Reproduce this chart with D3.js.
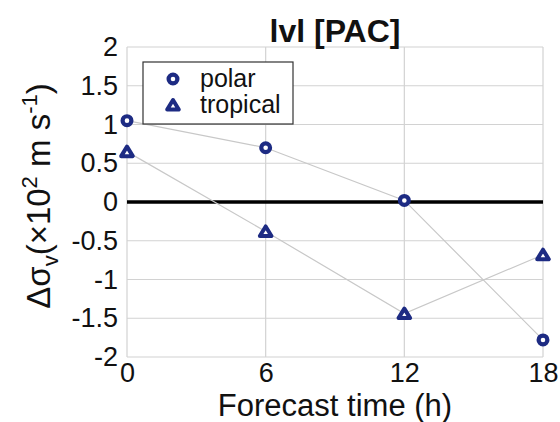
<!DOCTYPE html>
<html>
<head>
<meta charset="utf-8">
<script src="https://cdn.jsdelivr.net/npm/d3@7"></script>
<style>
  body { margin: 0; background: #fff; }
  text { font-family: "Liberation Sans", Arial, Helvetica, sans-serif; fill: #111; }
</style>
</head>
<body>
<div id="chart"></div>
<script>
const hours = [0, 6, 12, 18]
const polar = [1.05, 0.7, 0.02, -1.78]
const tropical = [0.65, -0.38, -1.44, -0.68]
const yTicks = [-2, -1.5, -1, -0.5, 0, 0.5, 1, 1.5, 2]
const seriesNames = ["polar", "tropical"]

const canvas = { width: 560, height: 422, margin: { top: 47, right: 17, bottom: 65, left: 127 } }
const navy = "#1d2b83"

const svg = d3.select("#chart").append("svg")
  .attr("width", canvas.width).attr("height", canvas.height)

const x = d3.scaleLinear().domain([0, 18])
  .range([canvas.margin.left, canvas.width - canvas.margin.right])
const y = d3.scaleLinear().domain([-2, 2])
  .range([canvas.height - canvas.margin.bottom, canvas.margin.top])

// grid
svg.append("g").selectAll("line").data(yTicks).enter().append("line")
  .attr("x1", x(0)).attr("x2", x(18))
  .attr("y1", d => y(d)).attr("y2", d => y(d))
  .attr("stroke", "#d2d2d2").attr("stroke-width", 1.2)
svg.append("g").selectAll("line").data(hours).enter().append("line")
  .attr("x1", d => x(d)).attr("x2", d => x(d))
  .attr("y1", y(-2)).attr("y2", y(2))
  .attr("stroke", "#d2d2d2").attr("stroke-width", 1.2)

// axes (labels only)
const yAxis = svg.append("g").attr("transform", `translate(${x(0) - 9},0)`)
  .call(d3.axisLeft(y).tickValues(yTicks).tickSize(0).tickPadding(0).tickFormat(d => String(d)))
yAxis.select(".domain").remove()
yAxis.selectAll("text").attr("font-size", "27px").attr("fill", "#111")
  .attr("font-family", "Liberation Sans, Arial, sans-serif")

const xAxis = svg.append("g").attr("transform", `translate(0,${y(-2)})`)
  .call(d3.axisBottom(x).tickValues(hours).tickSize(0).tickPadding(6).tickFormat(d => String(d)))
xAxis.select(".domain").remove()
xAxis.selectAll("text").attr("font-size", "27px").attr("fill", "#111")
  .attr("font-family", "Liberation Sans, Arial, sans-serif")

// zero line
svg.append("line").attr("x1", x(0)).attr("x2", x(18))
  .attr("y1", y(0)).attr("y2", y(0))
  .attr("stroke", "#000").attr("stroke-width", 3.5)

// series lines
const line = d3.line().x((d, i) => x(hours[i])).y(d => y(d))
;[polar, tropical].forEach(s => {
  svg.append("path").datum(s).attr("fill", "none")
    .attr("stroke", "#c8c8c8").attr("stroke-width", 1.2).attr("d", line)
})

const triPath = "M0,-5 L5.8,4.5 L-5.8,4.5 Z"

function addCircle(g, cx, cy) {
  g.append("circle").attr("cx", cx).attr("cy", cy).attr("r", 4.4)
    .attr("fill", "#fff").attr("stroke", navy).attr("stroke-width", 4.2)
}
function addTriangle(g, cx, cy) {
  g.append("path").attr("d", triPath).attr("transform", `translate(${cx},${cy})`)
    .attr("fill", "#fff").attr("stroke", navy).attr("stroke-width", 4)
    .attr("stroke-linejoin", "round")
}

const pts = svg.append("g")
polar.forEach((v, i) => addCircle(pts, x(hours[i]), y(v)))
tropical.forEach((v, i) => addTriangle(pts, x(hours[i]), y(v)))

// legend
const lg = svg.append("g").attr("transform", "translate(143,62)")
lg.append("rect").attr("width", 150).attr("height", 62)
  .attr("fill", "#fff").attr("stroke", "#333").attr("stroke-width", 1.2)
addCircle(lg, 30, 17)
addTriangle(lg, 30, 43)
lg.append("text").attr("x", 57).attr("y", 25).attr("font-size", "25px").text(seriesNames[0])
lg.append("text").attr("x", 57).attr("y", 51).attr("font-size", "25px").text(seriesNames[1])

// title
svg.append("text").attr("x", (x(0) + x(18)) / 2).attr("y", 42)
  .attr("text-anchor", "middle").attr("font-size", "32px").attr("font-weight", "bold")
  .text("lvl [PAC]")

// x label
svg.append("text").attr("x", (x(0) + x(18)) / 2).attr("y", 416)
  .attr("text-anchor", "middle").attr("font-size", "31px")
  .text("Forecast time (h)")

// y label
const yl = svg.append("text").attr("transform", "translate(50,196) rotate(-90)")
  .attr("text-anchor", "middle").attr("font-size", "33px")
yl.append("tspan").text("Δσ")
yl.append("tspan").attr("font-size", "22px").attr("dy", 8).text("v")
yl.append("tspan").attr("dy", -8).text("(×10")
yl.append("tspan").attr("font-size", "22px").attr("dy", -13).text("2")
yl.append("tspan").attr("dy", 13).text(" m s")
yl.append("tspan").attr("font-size", "22px").attr("dy", -13).text("-1")
yl.append("tspan").attr("dy", 13).text(")")
</script>
</body>
</html>
